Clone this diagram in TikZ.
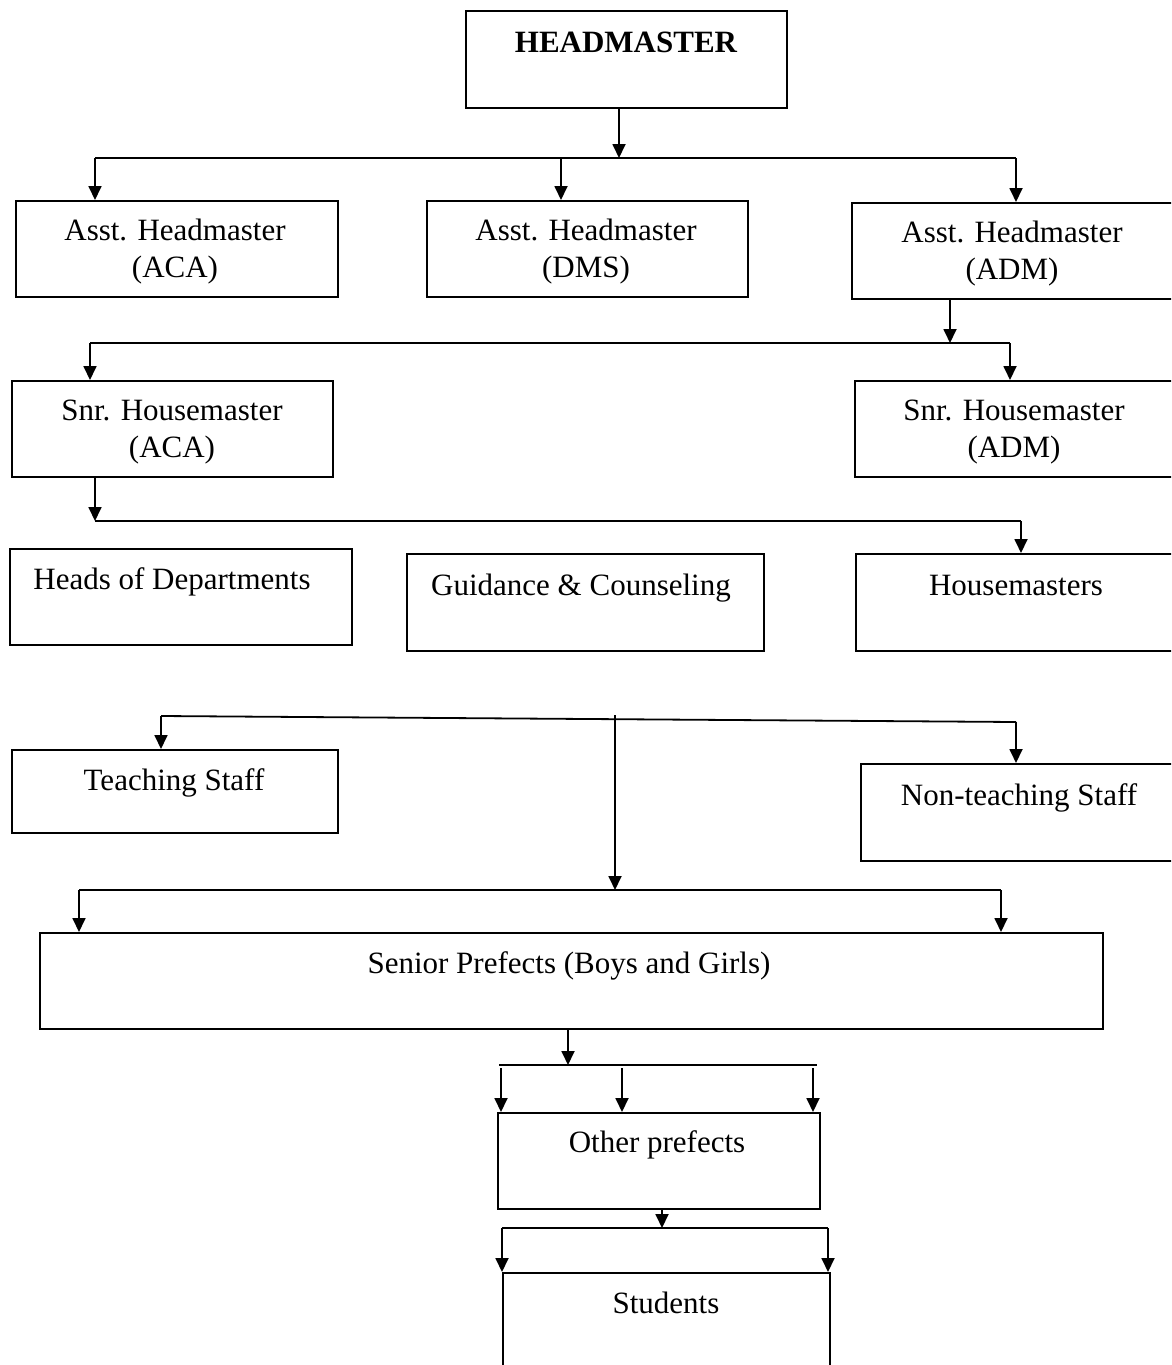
\documentclass[tikz,border=0pt]{standalone}
\usepackage{fontspec}
\setmainfont{Liberation Serif}
\usetikzlibrary{arrows.meta}
\begin{document}
\begin{tikzpicture}[x=1pt,y=-1pt,
  box/.style={draw,line width=2pt,anchor=north west,inner sep=0pt},
  lbl/.style={font=\fontsize{31}{37}\selectfont,align=center,inner sep=0pt},
  conn/.style={line width=1.8pt},
  arr/.style={conn,-{Triangle[length=14pt,width=13pt]}}]
\useasboundingbox (0,0) rectangle (1171,1365);
\clip (0,0) rectangle (1171,1365);
\fill[white] (0,0) rectangle (1171,1365);

% boxes
\node[box,minimum width=321pt,minimum height=97pt] (hm) at (465,10) {};
\node[box,minimum width=322pt,minimum height=96pt] (aca) at (15,200) {};
\node[box,minimum width=321pt,minimum height=96pt] (dms) at (426,200) {};
\node[box,minimum width=330pt,minimum height=96pt] (adm) at (851,202) {};
\node[box,minimum width=321pt,minimum height=96pt] (saca) at (11,380) {};
\node[box,minimum width=330pt,minimum height=96pt] (sadm) at (854,380) {};
\node[box,minimum width=342pt,minimum height=96pt] (hod) at (9,548) {};
\node[box,minimum width=357pt,minimum height=97pt] (gc) at (406,553) {};
\node[box,minimum width=330pt,minimum height=97pt] (hms) at (855,553) {};
\node[box,minimum width=326pt,minimum height=83pt] (ts) at (11,749) {};
\node[box,minimum width=330pt,minimum height=97pt] (nts) at (860,763) {};
\node[box,minimum width=1063pt,minimum height=96pt] (sp) at (39,932) {};
\node[box,minimum width=322pt,minimum height=96pt] (op) at (497,1112) {};
\node[box,minimum width=327pt,minimum height=110pt] (st) at (502,1272) {};

% texts
\node[lbl,font=\fontsize{31}{37}\selectfont\bfseries] (hmt) at (626,42) {HEADMASTER};
\node[lbl] (acat) at (175,252) {Asst. Headmaster\\(ACA)};
\node[lbl] (dmst) at (586,252) {Asst. Headmaster\\(DMS)};
\node[lbl] (admt) at (1012,254) {Asst. Headmaster\\(ADM)};
\node[lbl] (sacat) at (172,432) {Snr. Housemaster\\(ACA)};
\node[lbl] (sadmt) at (1014,432) {Snr. Housemaster\\(ADM)};
\node[lbl] (hodt) at (172,582) {Heads of Departments};
\node[lbl] (gct) at (581,588) {Guidance \& Counseling};
\node[lbl] (hmst) at (1016,585) {Housemasters};
\node[lbl] (tst) at (174,783) {Teaching Staff};
\node[lbl] (ntst) at (1019,798) {Non-teaching Staff};
\node[lbl] (spt) at (569,966) {Senior Prefects (Boys and Girls)};
\node[lbl] (opt) at (657,1145) {Other prefects};
\node[lbl] (stt) at (666,1303) {Students};

% level 1
\coordinate (b1) at (619,158);
\coordinate (b1l) at (95,158);
\coordinate (b1m) at (561,158);
\coordinate (b1r) at (1016,158);
\draw[arr] (b1 |- hm.south) -- (b1);
\draw[conn] (b1l) -- (b1r);
\draw[arr] (b1l) -- (b1l |- aca.north);
\draw[arr] (b1m) -- (b1m |- dms.north);
\draw[arr] (b1r) -- (b1r |- adm.north);

% level 2
\coordinate (b2) at (950,343);
\coordinate (b2l) at (90,343);
\coordinate (b2r) at (1010,343);
\draw[arr] (b2 |- adm.south) -- (b2);
\draw[conn] (b2l) -- (b2r);
\draw[arr] (b2l) -- (b2l |- saca.north);
\draw[arr] (b2r) -- (b2r |- sadm.north);

% level 3
\coordinate (b3l) at (95,521);
\coordinate (b3r) at (1021,521);
\draw[arr] (b3l |- saca.south) -- (b3l);
\draw[conn] (b3l) -- (b3r);
\draw[arr] (b3r) -- (b3r |- hms.north);

% level 4
\coordinate (b4l) at (161,716);
\coordinate (b4r) at (1016,722);
\coordinate (b4m) at (615,715);
\coordinate (b5) at (615,890);
\draw[conn] (b4l) -- (b4r);
\draw[arr] (b4l) -- (b4l |- ts.north);
\draw[arr] (b4r) -- (b4r |- nts.north);
\draw[arr] (b4m) -- (b5);

% level 5
\coordinate (b5l) at (79,890);
\coordinate (b5r) at (1001,890);
\draw[conn] (b5l) -- (b5r);
\draw[arr] (b5l) -- (b5l |- sp.north);
\draw[arr] (b5r) -- (b5r |- sp.north);

% level 6
\coordinate (b6) at (568,1065);
\coordinate (b6l) at (499,1065);
\coordinate (b6r) at (817,1065);
\coordinate (a6l) at (501,1068);
\coordinate (a6m) at (622,1068);
\coordinate (a6r) at (813,1068);
\draw[arr] (b6 |- sp.south) -- (b6);
\draw[conn] (b6l) -- (b6r);
\draw[arr] (a6l) -- (a6l |- op.north);
\draw[arr] (a6m) -- (a6m |- op.north);
\draw[arr] (a6r) -- (a6r |- op.north);

% level 7
\coordinate (b7) at (662,1228);
\coordinate (b7l) at (502,1228);
\coordinate (b7r) at (828,1228);
\draw[arr] (b7 |- op.south) -- (b7);
\draw[conn] (b7l) -- (b7r);
\draw[arr] (b7l) -- (b7l |- st.north);
\draw[arr] (b7r) -- (b7r |- st.north);
\end{tikzpicture}
\end{document}
